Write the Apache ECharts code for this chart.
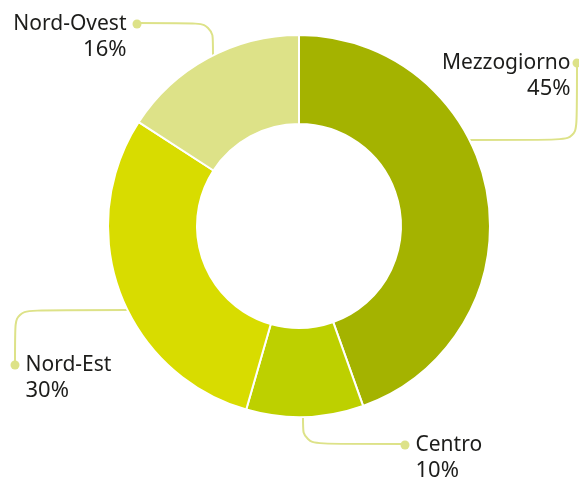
<!DOCTYPE html>
<html>
<head>
<meta charset="utf-8">
<script src="https://cdn.jsdelivr.net/npm/echarts@6/dist/echarts.min.js"></script>
<style>
  html, body { margin: 0; padding: 0; background: #fff; }
  #chart { width: 579px; height: 477px; }
</style>
</head>
<body>
<div id="chart"></div>
<script>
// dati (%)
const categories = ['Mezzogiorno', 'Centro', 'Nord-Est', 'Nord-Ovest'];
const values = [45, 10, 30, 16];
const colors = ['#a4b300', '#bdd000', '#d8dc00', '#dde288'];

const CX = 299, CY = 226, R_IN = 102, R_OUT = 191;
const LINE_COLOR = '#dde288';
const DOT = 9;
const LINE_H = 26;
const CORNER_R = 10;

// pallino finale e gomito della linea guida per ogni etichetta
const labelPos = {
    'Mezzogiorno': { dot: [577, 62], corner: [577, 140], dotSide: 'right', gap: 'gs' },
    'Centro': { dot: [405, 444], corner: [303, 444], dotSide: 'left', gap: 'gl' },
    'Nord-Est': { dot: [15, 364], corner: [15, 310], dotSide: 'left', gap: 'gl' },
    'Nord-Ovest': { dot: [137, 23], corner: [213, 23], dotSide: 'right', gap: 'gl' }
};

// punto sul bordo esterno della ciambella
function edgePoint(pos) {
    const c = pos.corner;
    if (c[0] === pos.dot[0]) {
        // tratto orizzontale verso la torta
        const dy = c[1] - CY;
        const dx = Math.sqrt(R_OUT * R_OUT - dy * dy);
        return [c[0] > CX ? CX + dx : CX - dx, c[1]];
    }
    const dx = c[0] - CX;
    const dy = Math.sqrt(R_OUT * R_OUT - dx * dx);
    return [c[0], c[1] > CY ? CY + dy : CY - dy];
}

// arrotondamento del gomito circa costante
function cornerSmooth(pos) {
    const e = edgePoint(pos), c = pos.corner, d = pos.dot;
    const l1 = Math.hypot(c[0] - e[0], c[1] - e[1]);
    const l2 = Math.hypot(d[0] - c[0], d[1] - c[1]);
    return Math.min(0.5, CORNER_R / Math.min(l1, l2));
}

const chart = echarts.init(document.getElementById('chart'));

const option = {
    animation: false,
    series: [{
        type: 'pie',
        center: [CX, CY],
        radius: [R_IN, R_OUT],
        startAngle: 90,
        clockwise: true,
        avoidLabelOverlap: false,
        itemStyle: { borderColor: '#fff', borderWidth: 2 },
        data: categories.map((name, i) => ({
            name: name,
            value: values[i],
            itemStyle: { color: colors[i] },
            labelLine: { smooth: cornerSmooth(labelPos[name]) }
        })),
        label: {
            show: true,
            position: 'outside',
            width: 170,
            overflow: 'none',
            formatter: function (p) {
                const pos = labelPos[p.name];
                const g = pos.gap;
                if (pos.dotSide === 'right') {
                    return '{name|' + p.name + '}{' + g + '|}{dot|}\n{pct|' + p.value + '%}{' + g + '|}{sp|}';
                }
                return '{dot|}{' + g + '|}{name|' + p.name + '}\n{sp|}{' + g + '|}{pct|' + p.value + '%}';
            },
            rich: {
                name: { fontFamily: 'Noto Sans', fontSize: 21, color: '#1d1d1b', lineHeight: LINE_H },
                pct: { fontFamily: 'Noto Sans', fontSize: 22, color: '#1d1d1b', lineHeight: LINE_H },
                dot: { width: DOT, height: DOT, borderRadius: DOT / 2, backgroundColor: LINE_COLOR, lineHeight: LINE_H },
                sp: { width: DOT, height: DOT, lineHeight: LINE_H },
                gs: { width: 2, lineHeight: LINE_H },
                gl: { width: 6, lineHeight: LINE_H }
            }
        },
        labelLine: {
            show: true,
            lineStyle: { color: LINE_COLOR, width: 2 }
        },
        labelLayout: function (params) {
            const pos = labelPos[categories[params.dataIndex]];
            const r = DOT / 2;
            return {
                x: pos.dotSide === 'right' ? pos.dot[0] + r : pos.dot[0] - r,
                y: pos.dot[1] - LINE_H / 2 + 1,
                align: pos.dotSide === 'right' ? 'right' : 'left',
                verticalAlign: 'top',
                labelLinePoints: [edgePoint(pos), pos.corner, pos.dot]
            };
        }
    }]
};

chart.setOption(option);
</script>
</body>
</html>
